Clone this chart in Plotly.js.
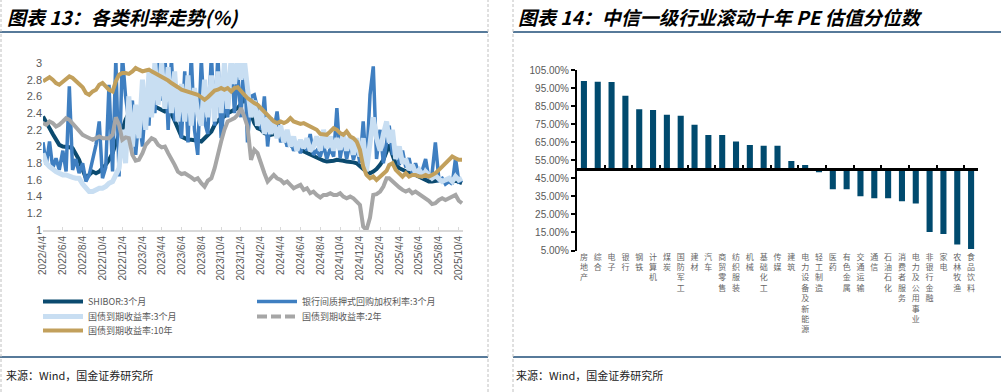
<!DOCTYPE html>
<html><head><meta charset="utf-8">
<script src="https://cdn.plot.ly/plotly-3.0.1.min.js"></script>
<style>html,body{margin:0;padding:0;background:#fff}#chart{width:1001px;height:392px}</style>
</head><body><div id="chart"></div>
<script>
// ---------- left chart: rates (%) ----------
const dates = [
'2022-04-04','2022-04-14','2022-04-24','2022-05-04','2022-05-14','2022-05-24','2022-06-04','2022-06-14','2022-06-24',
'2022-07-04','2022-07-14','2022-07-24','2022-08-04','2022-08-14','2022-08-24','2022-09-04','2022-09-14','2022-09-24',
'2022-10-04','2022-10-14','2022-10-24','2022-11-04','2022-11-14','2022-11-24','2022-12-04','2022-12-14','2022-12-24',
'2023-01-04','2023-01-14','2023-01-24','2023-02-04','2023-02-14','2023-02-24','2023-03-04','2023-03-14','2023-03-24',
'2023-04-04','2023-04-14','2023-04-24','2023-05-04','2023-05-14','2023-05-24','2023-06-04','2023-06-14','2023-06-24',
'2023-07-04','2023-07-14','2023-07-24','2023-08-04','2023-08-14','2023-08-24','2023-09-04','2023-09-14','2023-09-24',
'2023-10-04','2023-10-14','2023-10-24','2023-11-04','2023-11-14','2023-11-24','2023-12-04','2023-12-14','2023-12-24',
'2024-01-04','2024-01-14','2024-01-24','2024-02-04','2024-02-14','2024-02-24','2024-03-04','2024-03-14','2024-03-24',
'2024-04-04','2024-04-14','2024-04-24','2024-05-04','2024-05-14','2024-05-24','2024-06-04','2024-06-14','2024-06-24',
'2024-07-04','2024-07-14','2024-07-24','2024-08-04','2024-08-14','2024-08-24','2024-09-04','2024-09-14','2024-09-24',
'2024-10-04','2024-10-14','2024-10-24','2024-11-04','2024-11-14','2024-11-24','2024-12-04','2024-12-14','2024-12-24',
'2025-01-04','2025-01-14','2025-01-24','2025-02-04','2025-02-14','2025-02-24','2025-03-04','2025-03-14','2025-03-24',
'2025-04-04','2025-04-14','2025-04-24','2025-05-04','2025-05-14','2025-05-24','2025-06-04','2025-06-14','2025-06-24',
'2025-07-04','2025-07-14','2025-07-24','2025-08-04','2025-08-14','2025-08-24','2025-09-04','2025-09-14','2025-09-24',
'2025-10-04','2025-10-14'
];
const tickDates = ['2022-04-04','2022-06-04','2022-08-04','2022-10-04','2022-12-04','2023-02-04','2023-04-04','2023-06-04',
'2023-08-04','2023-10-04','2023-12-04','2024-02-04','2024-04-04','2024-06-04','2024-08-04','2024-10-04','2024-12-04',
'2025-02-04','2025-04-04','2025-06-04','2025-08-04','2025-10-04'];
const tickLabels = ['2022/4/4','2022/6/4','2022/8/4','2022/10/4','2022/12/4','2023/2/4','2023/4/4','2023/6/4',
'2023/8/4','2023/10/4','2023/12/4','2024/2/4','2024/4/4','2024/6/4','2024/8/4','2024/10/4','2024/12/4',
'2025/2/4','2025/4/4','2025/6/4','2025/8/4','2025/10/4'];

const shibor3m = [
2.36,2.30,2.22,2.15,2.08,2.02,2.00,2.00,1.99,1.98,
1.92,1.84,1.72,1.62,1.66,1.70,1.68,1.70,1.74,1.78,
1.84,1.92,2.04,2.14,2.20,2.32,2.40,2.32,2.31,2.34,
2.39,2.46,2.48,2.50,2.48,2.46,2.43,2.42,2.44,2.39,
2.31,2.22,2.12,2.10,2.08,2.08,2.08,2.07,2.06,2.10,
2.14,2.18,2.26,2.31,2.34,2.36,2.40,2.42,2.44,2.46,
2.51,2.58,2.50,2.39,2.28,2.22,2.20,2.16,2.15,2.14,
2.15,2.14,2.11,2.08,2.04,2.02,1.99,1.98,1.96,1.94,
1.92,1.90,1.88,1.86,1.84,1.83,1.82,1.82,1.83,1.84,
1.84,1.83,1.82,1.82,1.81,1.80,1.76,1.73,1.70,1.68,
1.70,1.73,1.78,1.84,1.94,2.02,1.90,1.79,1.74,1.72,
1.70,1.68,1.67,1.66,1.64,1.62,1.60,1.58,1.58,1.59,
1.60,1.60,1.59,1.58,1.58,1.59,1.58,1.56];

const repo3m = [
2.05,1.78,2.06,1.74,1.86,1.72,1.95,1.70,2.72,1.72,
1.85,1.68,1.80,1.58,1.66,1.86,2.02,2.30,1.62,1.75,
2.74,1.70,3.05,1.64,3.10,2.60,2.30,2.55,1.90,2.35,
2.00,2.55,2.25,2.90,2.40,3.10,2.55,3.10,2.20,3.05,
2.30,2.60,2.10,2.90,2.05,3.10,2.20,1.90,3.05,2.30,
2.15,3.10,2.25,3.10,2.10,2.55,2.35,3.10,2.40,2.90,
2.35,3.10,2.05,2.60,2.62,2.45,2.20,2.60,2.00,2.35,
2.18,2.42,2.05,2.15,2.00,2.08,1.95,2.02,1.92,2.05,
1.95,2.15,1.90,1.95,1.88,2.02,1.85,1.98,1.88,2.46,
1.86,2.08,1.85,2.05,1.84,2.00,1.80,2.30,1.75,2.62,
2.96,1.85,2.20,1.80,2.05,2.25,1.90,2.00,1.78,1.95,
1.75,1.86,1.68,1.80,1.65,1.72,1.85,1.62,1.68,2.05,
1.60,1.62,1.55,1.58,1.55,1.86,1.58,1.60];

const cgb3m = [
1.92,1.80,1.76,1.72,1.70,1.68,1.66,1.66,1.64,1.63,
1.62,1.62,1.55,1.50,1.46,1.46,1.48,1.50,1.50,1.52,
1.56,1.58,1.66,1.74,2.20,1.80,2.60,2.00,2.50,2.10,
2.80,2.20,2.90,2.35,3.00,2.50,3.00,2.45,2.95,2.40,
2.90,2.30,2.75,2.30,2.85,2.25,2.70,2.40,2.25,2.80,
2.35,2.85,2.30,2.90,2.40,3.00,2.45,3.05,2.75,3.05,
2.80,3.05,2.70,2.35,2.55,2.25,2.45,2.15,2.35,2.15,
2.30,2.10,2.25,2.05,2.20,2.00,2.12,1.95,2.08,1.98,
2.10,1.95,2.00,2.12,1.95,2.20,1.98,2.12,1.95,2.10,
1.96,2.15,1.95,2.12,1.90,2.10,1.88,2.10,1.70,2.00,
2.35,2.10,1.95,2.15,2.30,2.05,2.20,1.85,2.00,1.80,
1.85,1.72,1.78,1.68,1.72,1.66,1.70,1.66,1.62,1.65,
1.62,1.58,1.60,1.62,1.58,1.64,1.60,1.62];

const cgb2y = [
2.28,2.26,2.30,2.28,2.24,2.26,2.30,2.34,2.32,2.28,
2.24,2.20,2.14,2.12,2.10,2.08,2.10,2.12,2.10,2.10,
2.10,2.14,2.35,2.26,2.08,2.11,2.10,1.90,1.83,1.84,
1.92,2.02,2.06,2.10,2.08,2.02,1.99,2.00,1.92,1.86,
1.78,1.70,1.67,1.68,1.66,1.63,1.60,1.62,1.56,1.52,
1.59,1.62,1.74,1.92,2.06,2.20,2.30,2.32,2.34,2.38,
2.46,2.36,2.24,1.84,1.96,1.92,1.78,1.68,1.58,1.62,
1.66,1.62,1.60,1.56,1.58,1.54,1.50,1.52,1.54,1.48,
1.50,1.44,1.46,1.42,1.39,1.42,1.42,1.44,1.42,1.42,
1.44,1.40,1.38,1.40,1.38,1.34,1.30,1.04,1.00,1.15,
1.42,1.43,1.46,1.52,1.62,1.62,1.58,1.55,1.51,1.48,
1.46,1.48,1.44,1.46,1.43,1.40,1.38,1.35,1.31,1.32,
1.36,1.38,1.36,1.38,1.40,1.42,1.35,1.32];

const cgb10y = [
2.78,2.81,2.83,2.80,2.76,2.74,2.78,2.80,2.84,2.82,
2.78,2.75,2.71,2.64,2.62,2.66,2.68,2.74,2.76,2.72,
2.68,2.66,2.78,2.86,2.88,2.88,2.87,2.90,2.94,2.92,
2.90,2.91,2.92,2.90,2.88,2.86,2.84,2.82,2.79,2.76,
2.74,2.71,2.68,2.67,2.66,2.64,2.63,2.62,2.59,2.56,
2.59,2.63,2.67,2.68,2.70,2.68,2.70,2.66,2.70,2.71,
2.66,2.62,2.58,2.54,2.52,2.50,2.46,2.42,2.38,2.34,
2.30,2.28,2.30,2.28,2.30,2.34,2.30,2.28,2.27,2.28,
2.26,2.24,2.22,2.20,2.15,2.14,2.14,2.18,2.22,2.20,
2.16,2.14,2.18,2.12,2.10,2.06,1.96,1.76,1.66,1.62,
1.64,1.60,1.64,1.66,1.71,1.78,1.80,1.72,1.67,1.64,
1.68,1.64,1.66,1.66,1.64,1.64,1.66,1.64,1.66,1.68,
1.72,1.76,1.81,1.85,1.88,1.86,1.84,1.84];

const seriesNames = ['SHIBOR:3个月','银行间质押式回购加权利率:3个月','国债到期收益率:3个月','国债到期收益率:2年','国债到期收益率:10年'];

// ---------- right chart: PE percentile (%) ----------
const industries = ['房地产','综合','电子','银行','钢铁','计算机','煤炭','国防军工','建材','汽车','商贸零售','纺织服装',
'机械','基础化工','传媒','建筑','电力设备及新能源','轻工制造','医药','有色金属','交通运输','通信','石油石化',
'消费者服务','电力及公用事业','非银行金融','家电','农林牧渔','食品饮料'];
const pePercentile = [98.9,98.5,98.3,90.7,83.3,82.8,80.2,79.6,74.6,69.0,69.0,65.4,
63.5,63.0,63.0,54.6,52.4,48.3,39.0,39.0,35.0,34.0,34.0,
32.3,31.0,15.3,14.2,8.3,5.9];
const peBase = 50;

// ---------- layout helpers ----------
const W = 1001, H = 392;
const fx = x => x / W, fy = y => 1 - y / H;
const leftX = [fx(43), fx(463)], leftY = [fy(230), fy(63)];
const rightX = [fx(577), fx(978)], rightY = [fy(250.5), fy(70)];
const yr = [5, 105];
const crossPos = rightY[0] + (peBase - yr[0]) / (yr[1] - yr[0]) * (rightY[1] - rightY[0]);

const colors = {navy:'#0b4a6f', mid:'#3f7fc1', light:'#c8def2', grey:'#a6a6a6', gold:'#c2a05c', bar:'#004a6e'};
const lw = 4;

const traces = [
  {type:'scatter', mode:'lines', x:dates, y:shibor3m, name:seriesNames[0], legend:'legend', line:{color:colors.navy, width:lw}},
  {type:'scatter', mode:'lines', x:dates, y:repo3m, name:seriesNames[1], legend:'legend', line:{color:colors.mid, width:3.5}},
  {type:'scatter', mode:'lines', x:dates, y:cgb3m, name:seriesNames[2], legend:'legend2', line:{color:colors.light, width:lw+1}},
  {type:'scatter', mode:'lines', x:dates, y:cgb2y, name:seriesNames[3], showlegend:false, line:{color:colors.grey, width:lw}},
  {type:'scatter', mode:'lines', x:[dates[0]], y:[null], name:seriesNames[3], legend:'legend2', line:{color:colors.grey, width:lw, dash:'10px,4px'}},
  {type:'scatter', mode:'lines', x:dates, y:cgb10y, name:seriesNames[4], legend:'legend3', line:{color:colors.gold, width:lw}},
  {type:'bar', x:industries, y:pePercentile.map(v => v - peBase), base:peBase, xaxis:'x2', yaxis:'y2',
   marker:{color:colors.bar}, width:0.44, showlegend:false},
  {type:'scatter', mode:'lines', x:industries, y:industries.map(() => null), xaxis:'x3', yaxis:'y2', showlegend:false, hoverinfo:'skip'}
];

const grey = '#595959';
const legendBase = {orientation:'h', xanchor:'left', yanchor:'top', x:fx(38),
  entrywidth:159, entrywidthmode:'pixels', itemwidth:40, traceorder:'normal',
  bgcolor:'rgba(0,0,0,0)', font:{family:'Noto Sans CJK SC', size:9, color:grey}};
const layout = {
  width:W, height:H, autosize:false, margin:{l:0,r:0,t:0,b:0},
  paper_bgcolor:'#fff', plot_bgcolor:'rgba(0,0,0,0)', hovermode:false,
  font:{family:'Liberation Sans, Noto Sans CJK SC', color:grey},
  xaxis:{domain:leftX, anchor:'y', type:'date', range:['2022-04-04','2025-10-17'],
    tickmode:'array', tickvals:tickDates, ticktext:tickLabels, tickangle:-90,
    ticks:'inside', ticklen:3, tickwidth:1, tickcolor:'#d9d9d9',
    showline:true, linecolor:'#d9d9d9', linewidth:2, showgrid:false, zeroline:false,
    tickfont:{family:'Liberation Sans', size:10, color:grey}},
  yaxis:{domain:leftY, anchor:'x', range:[1,3], tick0:1, dtick:0.2, showgrid:false, zeroline:false,
    showline:false, ticks:'', tickfont:{family:'Liberation Sans', size:11, color:grey}},
  xaxis2:{domain:rightX, anchor:'y2', type:'category', range:[-0.5, industries.length - 0.5],
    tickmode:'array', tickvals:industries, ticktext:industries.map(s => s.split('').join('<br>')),
    tickangle:0, showline:false, ticks:'', showgrid:false, zeroline:false,
    tickfont:{family:'Noto Sans CJK SC', size:8, color:'#666'}},
  xaxis3:{overlaying:'x2', anchor:'free', position:crossPos, type:'category', range:[-0.5, industries.length - 0.5],
    showline:true, linecolor:'#000', linewidth:2.5, ticks:'inside', tickson:'boundaries', ticklen:3, tickwidth:2,
    tickcolor:'#000', showticklabels:false, showgrid:false, zeroline:false},
  yaxis2:{domain:rightY, anchor:'x2', range:yr, tick0:5, dtick:10, ticksuffix:'%', tickformat:'.2f',
    showline:true, linecolor:'#000', linewidth:2, ticks:'outside', ticklen:4, tickwidth:2, tickcolor:'#000',
    showgrid:false, zeroline:false, tickfont:{family:'Liberation Sans', size:10, color:grey}},
  legend:Object.assign({}, legendBase, {y:fy(287)}),
  legend2:Object.assign({}, legendBase, {y:fy(302)}),
  legend3:Object.assign({}, legendBase, {y:fy(316)}),
  shapes:[
    {type:'line', xref:'paper', yref:'paper', x0:0, x1:fx(488), y0:fy(32), y1:fy(32), line:{color:'#1f4e79', width:1.5}},
    {type:'line', xref:'paper', yref:'paper', x0:fx(513), x1:1, y0:fy(32), y1:fy(32), line:{color:'#1f4e79', width:1.5}},
    {type:'line', xref:'paper', yref:'paper', x0:0, x1:fx(488), y0:fy(357), y1:fy(357), line:{color:'#1f4e79', width:1.5}},
    {type:'line', xref:'paper', yref:'paper', x0:fx(513), x1:1, y0:fy(357), y1:fy(357), line:{color:'#1f4e79', width:1.5}},
    {type:'line', xref:'paper', yref:'paper', x0:fx(1), x1:fx(1), y0:0, y1:1, line:{color:'#c0c0c0', width:1, dash:'3px,2px'}},
    {type:'line', xref:'paper', yref:'paper', x0:fx(488), x1:fx(488), y0:0, y1:1, line:{color:'#c0c0c0', width:1, dash:'3px,2px'}},
    {type:'line', xref:'paper', yref:'paper', x0:fx(513), x1:fx(513), y0:0, y1:1, line:{color:'#c0c0c0', width:1, dash:'3px,2px'}}
  ],
  annotations:[
    {xref:'paper', yref:'paper', x:fx(5), y:fy(16), xanchor:'left', yanchor:'middle', showarrow:false,
     text:'图表 13：各类利率走势(%)', font:{family:'Noto Sans CJK SC', size:19, weight:'bold', style:'italic', color:'#000'}},
    {xref:'paper', yref:'paper', x:fx(516), y:fy(16), xanchor:'left', yanchor:'middle', showarrow:false,
     text:'图表 14：中信一级行业滚动十年 PE 估值分位数', font:{family:'Noto Sans CJK SC', size:19, weight:'bold', style:'italic', color:'#000'}},
    {xref:'paper', yref:'paper', x:fx(4), y:fy(375), xanchor:'left', yanchor:'middle', showarrow:false,
     text:'来源：Wind，国金证券研究所', font:{family:'Noto Sans CJK SC', size:11, color:'#222'}},
    {xref:'paper', yref:'paper', x:fx(514), y:fy(375), xanchor:'left', yanchor:'middle', showarrow:false,
     text:'来源：Wind，国金证券研究所', font:{family:'Noto Sans CJK SC', size:11, color:'#222'}}
  ]
};

Plotly.newPlot('chart', traces, layout, {staticPlot:true, displayModeBar:false});
</script>
</body></html>
